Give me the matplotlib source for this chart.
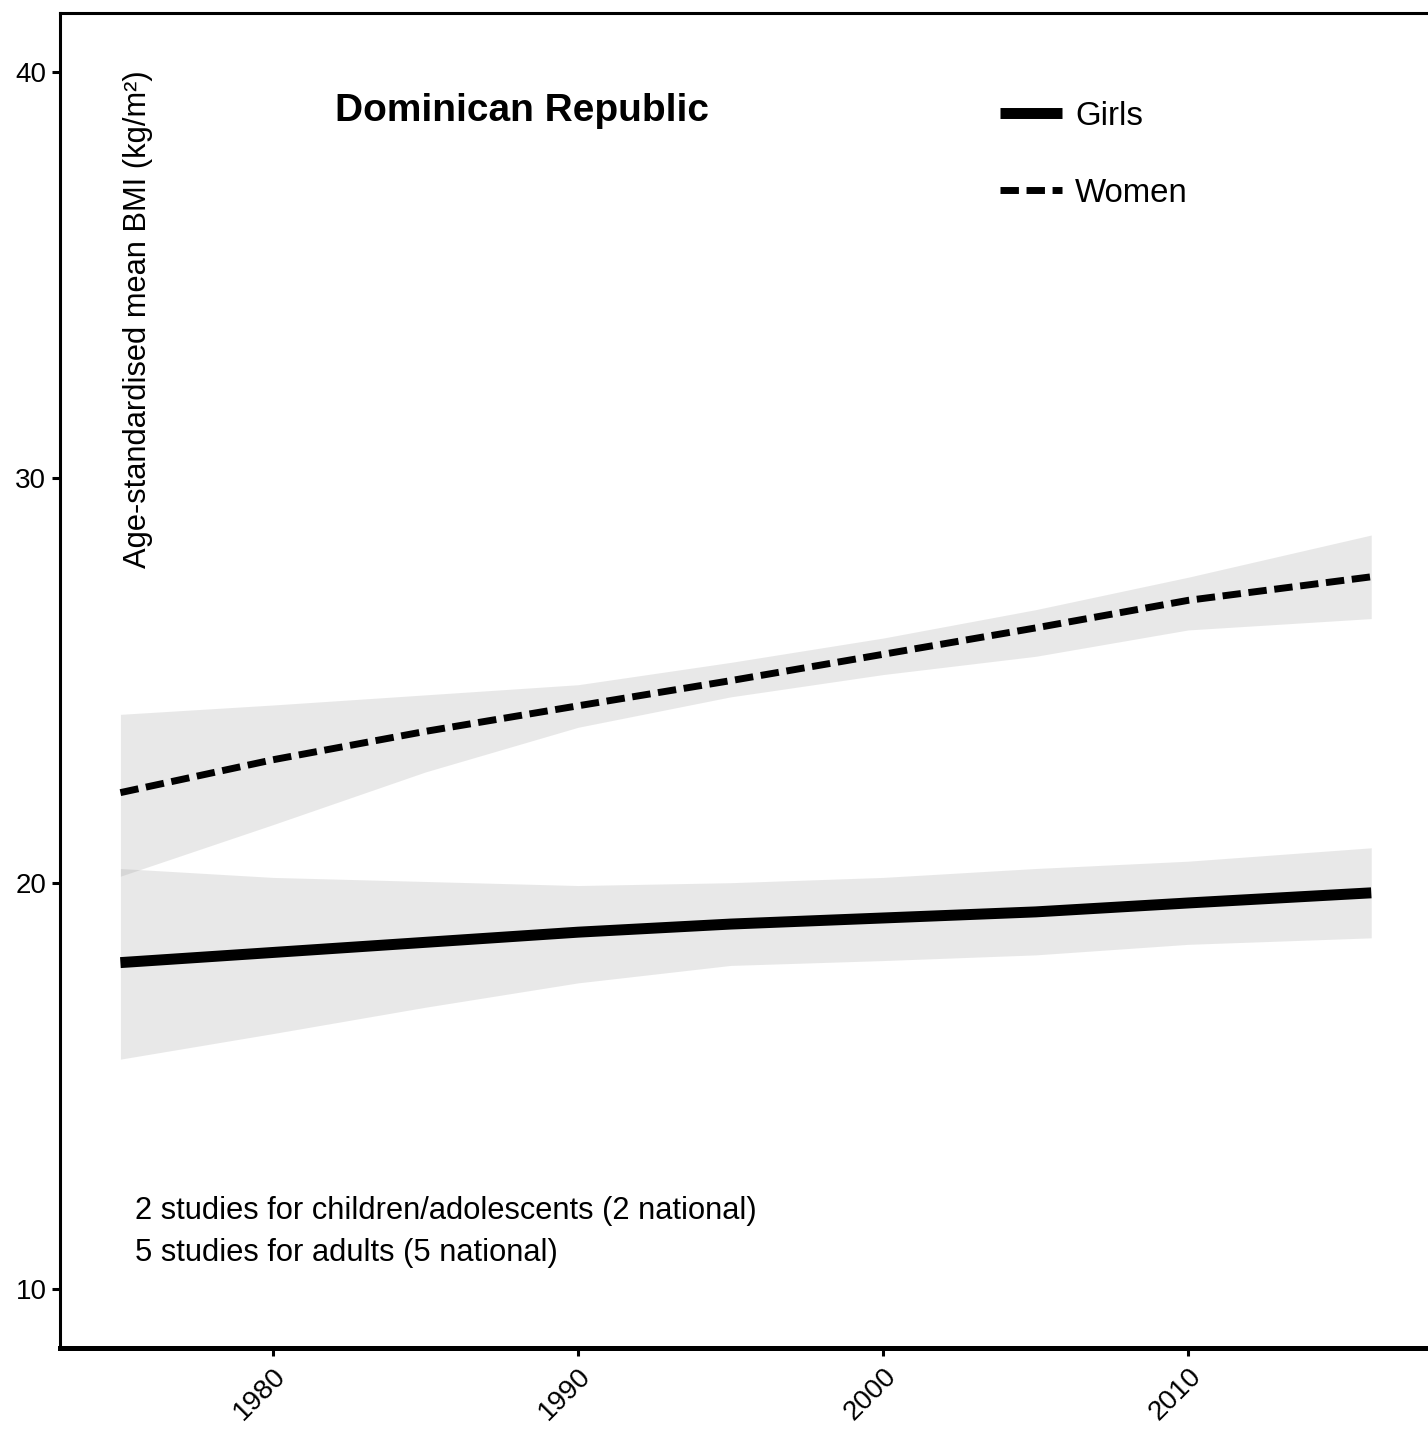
import matplotlib
matplotlib.use('Agg')
import matplotlib.pyplot as plt
import numpy as np

plt.rcParams['font.family'] = ['Liberation Sans', 'DejaVu Sans']

# Age-standardised mean BMI, Dominican Republic
years = [1975, 1980, 1985, 1990, 1995, 2000, 2005, 2010, 2016]

girls_mean = [18.05, 18.30, 18.55, 18.80, 19.00, 19.15, 19.30, 19.52, 19.77]
girls_upper = [20.37, 20.15, 20.05, 19.95, 20.02, 20.15, 20.37, 20.55, 20.88]
girls_lower = [15.67, 16.30, 16.95, 17.55, 17.98, 18.10, 18.24, 18.50, 18.66]

women_mean = [22.24, 23.05, 23.75, 24.38, 25.00, 25.65, 26.30, 26.98, 27.56]
women_upper = [24.17, 24.40, 24.65, 24.90, 25.45, 26.05, 26.75, 27.55, 28.59]
women_lower = [20.18, 21.45, 22.75, 23.85, 24.60, 25.15, 25.60, 26.25, 26.53]

x_ticks = [1980, 1990, 2000, 2010]
y_ticks = [10, 20, 30, 40]

country = 'Dominican Republic'
study_notes = ['2 studies for children/adolescents (2 national)',
               '5 studies for adults (5 national)']

fig = plt.figure(figsize=(14.28, 14.48), dpi=100)
ax = fig.add_axes([60 / 1428, 1 - 1348 / 1448, 1 - 60 / 1428, (1348 - 12.5) / 1448])

# uncertainty bands
ax.fill_between(years, girls_lower, girls_upper, color='#999999', alpha=0.22, lw=0)
ax.fill_between(years, women_lower, women_upper, color='#999999', alpha=0.22, lw=0)

ax.plot(years, girls_mean, color='black', lw=7.9, solid_capstyle='butt',
        solid_joinstyle='round', label='Girls')
ax.plot(years, women_mean, color='black', lw=5.0, dashes=(2.65, 1.1),
        dash_capstyle='butt', label='Women')

ax.set_xlim(1973.02, 2017.86)
ax.set_ylim(8.55, 41.47)
ax.set_xticks(x_ticks)
ax.set_yticks(y_ticks)
ax.set_xticklabels([str(t) for t in x_ticks], rotation=45, ha='right', va='top',
                   rotation_mode='anchor')

ax.tick_params(axis='both', labelsize=20, colors='black', width=2.2, direction='out')
ax.tick_params(axis='y', length=5.8, pad=4)
ax.tick_params(axis='x', length=6.0, pad=5)

ax.spines['right'].set_visible(False)
ax.spines['left'].set_linewidth(2.2)
ax.spines['top'].set_linewidth(2.2)
ax.spines['bottom'].set_linewidth(3.6)

ax.text(1982.03, 39.03, country, fontsize=28, fontweight='bold', ha='left', va='center')
ax.text(1975.57, 40.05, 'Age-standardised mean BMI (kg/m²)', fontsize=22.2, rotation=90,
        ha='center', va='top')
ax.text(1975.48, 11.92, study_notes[0], fontsize=22.2, ha='left', va='center')
ax.text(1975.48, 10.90, study_notes[1], fontsize=22.2, ha='left', va='center')

ax.legend(loc='upper left', bbox_to_anchor=(0.687, 0.934), frameon=False, fontsize=23.8,
          handlelength=1.88, handletextpad=0.4, labelspacing=1.4, borderpad=0,
          borderaxespad=0)

fig.savefig('out.png', dpi=100)
